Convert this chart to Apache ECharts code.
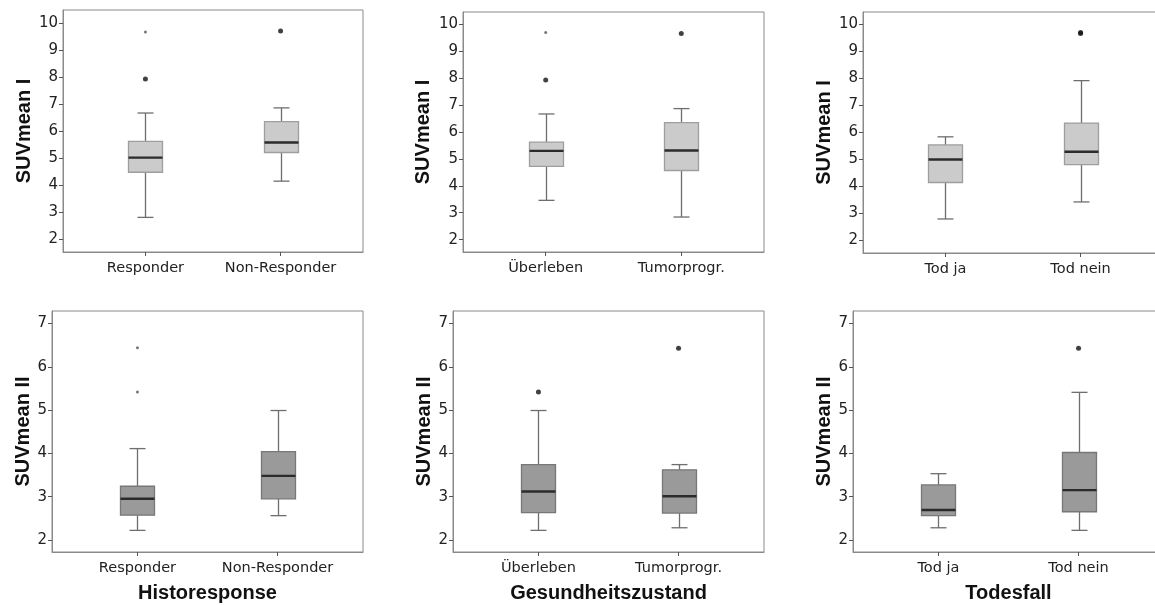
<!DOCTYPE html>
<html>

<head>
    <title>SUVmean I / II Boxplots</title>
    <meta charset="utf-8">
    <script src="https://cdn.jsdelivr.net/npm/echarts@6/dist/echarts.min.js"></script>
    <style>
        html, body { margin: 0; padding: 0; background: #fff; }
        #main { width: 1155px; height: 605px; }
    </style>
</head>

<body>
    <div id="main"></div>

    <script type="text/javascript">
        // group labels
        var catsHisto = ['Responder', 'Non-Responder'];
        var catsGesund = ['Überleben', 'Tumorprogr.'];
        var catsTod = ['Tod ja', 'Tod nein'];

        var ticksI = [2, 3, 4, 5, 6, 7, 8, 9, 10];
        var ticksII = [2, 3, 4, 5, 6, 7];

        // boxes: [lower whisker, Q1, median, Q3, upper whisker] per group
        // outliers (circles) and extremes (stars): [group index, value]
        var suv1Histo = [[2.81, 4.48, 5.02, 5.62, 6.67], [4.15, 5.21, 5.58, 6.35, 6.86]];
        var suv1HistoOut = [[0, 7.93], [1, 9.70]];
        var suv1HistoExt = [[0, 9.67]];

        var suv1Gesund = [[3.46, 4.72, 5.30, 5.62, 6.67], [2.84, 4.57, 5.31, 6.35, 6.87]];
        var suv1GesundOut = [[0, 7.93], [1, 9.66]];
        var suv1GesundExt = [[0, 9.70]];

        var suv1Tod = [[2.80, 4.15, 5.00, 5.54, 5.84], [3.43, 4.81, 5.29, 6.35, 7.92]];
        var suv1TodOut = [[1, 9.66], [1, 9.70]];
        var suv1TodExt = [];

        var suv2Histo = [[2.22, 2.57, 2.95, 3.24, 4.11], [2.56, 2.95, 3.48, 4.04, 4.99]];
        var suv2HistoOut = [];
        var suv2HistoExt = [[0, 6.44], [0, 5.42]];

        var suv2Gesund = [[2.22, 2.63, 3.12, 3.74, 4.99], [2.28, 2.62, 3.01, 3.62, 3.74]];
        var suv2GesundOut = [[0, 5.42], [1, 6.43]];
        var suv2GesundExt = [];

        var suv2Tod = [[2.28, 2.56, 2.69, 3.27, 3.53], [2.22, 2.65, 3.15, 4.02, 5.41]];
        var suv2TodOut = [[1, 6.43]];
        var suv2TodExt = [];

        var myChart = echarts.init(document.getElementById('main'));

        // one entry per panel: grid box, data, axis names
        var panels = [
            { grid: [63, 10, 300, 242], cats: catsHisto, box: suv1Histo, out: suv1HistoOut, ext: suv1HistoExt, ticks: ticksI, yr: [1.53, 10.48], yName: 'SUVmean I', yGap: 29, light: true },
            { grid: [463, 12, 301, 240], cats: catsGesund, box: suv1Gesund, out: suv1GesundOut, ext: suv1GesundExt, ticks: ticksI, yr: [1.54, 10.46], yName: 'SUVmean I', yGap: 30, light: true },
            { grid: [863, 12, 300, 241], cats: catsTod, box: suv1Tod, out: suv1TodOut, ext: suv1TodExt, ticks: ticksI, yr: [1.54, 10.46], yName: 'SUVmean I', yGap: 29, light: true },
            { grid: [52, 311, 311, 241], cats: catsHisto, box: suv2Histo, out: suv2HistoOut, ext: suv2HistoExt, ticks: ticksII, yr: [1.72, 7.29], yName: 'SUVmean II', yGap: 19, xName: 'Historesponse' },
            { grid: [453, 311, 311, 241], cats: catsGesund, box: suv2Gesund, out: suv2GesundOut, ext: suv2GesundExt, ticks: ticksII, yr: [1.72, 7.29], yName: 'SUVmean II', yGap: 19, xName: 'Gesundheitszustand' },
            { grid: [853, 311, 311, 241], cats: catsTod, box: suv2Tod, out: suv2TodOut, ext: suv2TodExt, ticks: ticksII, yr: [1.72, 7.29], yName: 'SUVmean II', yGap: 19, xName: 'Todesfall' }
        ];

        var frame = '#8a8a8a';
        var nameStyle = { fontFamily: 'Liberation Sans', fontWeight: 'bold', fontSize: 20, color: '#111' };

        // SPSS style box: half-width whisker caps, dark median
        function boxRenderer(fill, stroke) {
            return function (params, api) {
                var x = api.value(0);
                var p = [1, 2, 3, 4, 5].map(function (d) { return api.coord([x, api.value(d)]); });
                var cx = Math.round(p[0][0]) + 0.5;
                var hw = 17, cw = 8;
                var wk = { stroke: '#6e6e6e', lineWidth: 1.3 };
                return {
                    type: 'group',
                    children: [
                        { type: 'line', shape: { x1: cx, y1: p[0][1], x2: cx, y2: p[1][1] }, style: wk },
                        { type: 'line', shape: { x1: cx, y1: p[3][1], x2: cx, y2: p[4][1] }, style: wk },
                        { type: 'line', shape: { x1: cx - cw, y1: p[0][1], x2: cx + cw, y2: p[0][1] }, style: wk },
                        { type: 'line', shape: { x1: cx - cw, y1: p[4][1], x2: cx + cw, y2: p[4][1] }, style: wk },
                        { type: 'rect', shape: { x: cx - hw, y: p[3][1], width: 2 * hw, height: p[1][1] - p[3][1] }, style: { fill: fill, stroke: stroke, lineWidth: 1.3 } },
                        { type: 'line', shape: { x1: cx - hw, y1: p[2][1], x2: cx + hw, y2: p[2][1] }, style: { stroke: '#2b2b2b', lineWidth: 2.4 } }
                    ]
                };
            };
        }

        var grids = [], xAxes = [], yAxes = [], series = [];

        panels.forEach(function (pn, i) {
            grids.push({
                left: pn.grid[0], top: pn.grid[1], width: pn.grid[2], height: pn.grid[3],
                show: true, borderColor: frame, borderWidth: 1,
                containLabel: false, outerBoundsMode: 'none'
            });
            xAxes.push({
                gridIndex: i,
                type: 'value',
                min: -0.61,
                max: 1.61,
                splitLine: { show: false },
                axisLine: { show: true, onZero: false, lineStyle: { color: frame } },
                axisTick: { show: true, customValues: [0, 1], length: 4, lineStyle: { color: '#555' } },
                axisLabel: {
                    customValues: [0, 1],
                    margin: 9,
                    fontFamily: 'DejaVu Sans',
                    fontSize: 14.5,
                    color: '#222',
                    formatter: (function (cats) { return function (v) { return cats[Math.round(v)]; }; })(pn.cats)
                },
                name: pn.xName || '',
                nameLocation: 'middle',
                nameGap: 31,
                nameTextStyle: nameStyle
            });
            yAxes.push({
                gridIndex: i,
                type: 'value',
                min: pn.yr[0],
                max: pn.yr[1],
                splitLine: { show: false },
                axisLine: { show: true, onZero: false, lineStyle: { color: frame } },
                axisTick: { show: true, customValues: pn.ticks, length: 4, lineStyle: { color: '#555' } },
                axisLabel: { customValues: pn.ticks, margin: 5, fontFamily: 'DejaVu Sans', fontSize: 15, color: '#222' },
                name: pn.yName,
                nameLocation: 'middle',
                nameGap: pn.yGap,
                nameTextStyle: nameStyle
            });

            series.push({
                type: 'custom',
                xAxisIndex: i,
                yAxisIndex: i,
                renderItem: pn.light ? boxRenderer('#cbcbcb', '#9e9e9e') : boxRenderer('#9a9a9a', '#777777'),
                encode: { x: 0, y: [1, 2, 3, 4, 5] },
                data: pn.box.map(function (b, k) { return [k].concat(b); }),
                silent: true
            });
            series.push({
                type: 'scatter',
                xAxisIndex: i,
                yAxisIndex: i,
                symbol: 'circle',
                symbolSize: 5,
                itemStyle: { color: '#111' },
                data: pn.out,
                silent: true
            });
            series.push({
                type: 'scatter',
                xAxisIndex: i,
                yAxisIndex: i,
                symbol: 'circle',
                symbolSize: 3,
                itemStyle: { color: '#555' },
                data: pn.ext,
                silent: true
            });
        });

        var option = {
            backgroundColor: '#ffffff',
            animation: false,
            textStyle: { fontFamily: 'DejaVu Sans' },
            grid: grids,
            xAxis: xAxes,
            yAxis: yAxes,
            series: series
        };

        myChart.setOption(option);
    </script>
</body>

</html>
